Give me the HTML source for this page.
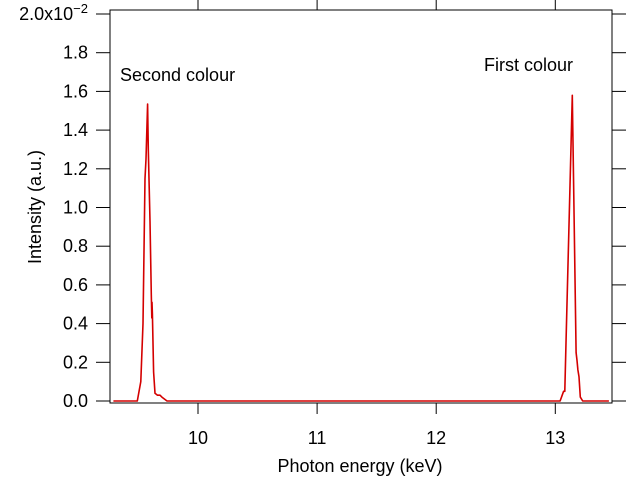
<!DOCTYPE html>
<html><head><meta charset="utf-8"><style>
body{margin:0;background:#fff}
svg text{font-family:"Liberation Sans",sans-serif;fill:#000}
</style></head><body>
<svg width="642" height="491" xmlns="http://www.w3.org/2000/svg">
<g id="axes"></g>
<g id="series"></g>
<text x="120" y="81" font-size="18">Second colour</text>
<text x="484" y="71" font-size="18">First colour</text>
<text x="360" y="472" font-size="18" text-anchor="middle">Photon energy (keV)</text>
<text transform="translate(41,207) rotate(-90)" font-size="18" text-anchor="middle">Intensity (a.u.)</text>
</svg>
<script>
const xTicks=[10,11,12,13];
const yTicks=[0,0.2,0.4,0.6,0.8,1.0,1.2,1.4,1.6,1.8];
const energy=[9.29,9.49,9.52,9.538,9.555,9.563,9.577,9.583,9.597,9.608,9.612,9.614,9.617,9.627,9.639,9.66,9.681,9.697,9.74,13.04,13.058,13.07,13.08,13.09,13.143,13.175,13.182,13.19,13.199,13.21,13.23,13.45];
const intensity=[0,0,0.1,0.4,1.15,1.25,1.535,1.3,0.93,0.55,0.43,0.51,0.45,0.15,0.04,0.03,0.03,0.02,0,0,0.03,0.05,0.05,0.3,1.58,0.25,0.21,0.16,0.125,0.02,0,0];
const L=110,R=612,T=10,B=403;
const xs=v=>198+(v-10)*119.1;
const ys=v=>401-v*193.5;
const NS="http://www.w3.org/2000/svg";
const ax=document.getElementById('axes');
function mk(tag,attrs,parent){const e=document.createElementNS(NS,tag);for(const k in attrs)e.setAttribute(k,attrs[k]);parent.appendChild(e);return e;}
const frame=mk('rect',{x:L,y:T,width:R-L,height:B-T,fill:'none',stroke:'#000','stroke-width':1},ax);


xTicks.forEach(v=>{
  const x=xs(v);
  const t1=mk('line',{x1:x,x2:x,y1:B,y2:B+11,stroke:'#000'},ax);
  
  
  const t2=mk('line',{x1:x,x2:x,y1:0,y2:T,stroke:'#000'},ax);
  
  
  const lb=mk('text',{x:x,y:444,'font-size':18,'text-anchor':'middle'},ax);
  lb.textContent=String(v);
  
  
});
yTicks.concat([2.0]).forEach(v=>{
  const y=ys(v);
  const t1=mk('line',{x1:96,x2:L,y1:y,y2:y,stroke:'#000'},ax);
  
  
  const t2=mk('line',{x1:R,x2:R+14,y1:y,y2:y,stroke:'#000'},ax);
  
  
});
yTicks.forEach(v=>{
  const lb=mk('text',{x:88,y:ys(v)+6,'font-size':18,'text-anchor':'end'},ax);
  lb.textContent=v.toFixed(1);
  
  
});
const topLbl=mk('text',{x:88,y:ys(2.0)+6,'font-size':18,'text-anchor':'end'},ax);
topLbl.innerHTML='2.0x10<tspan dy="-7" font-size="13">−2</tspan>';


const pts=energy.map((e,i)=>xs(e).toFixed(1)+','+ys(intensity[i]).toFixed(1)).join(' ');
const line=mk('polyline',{points:pts,fill:'none',stroke:'#d40000','stroke-width':1.6,'stroke-linejoin':'round'},document.getElementById('series'));


</script>
</body></html>
